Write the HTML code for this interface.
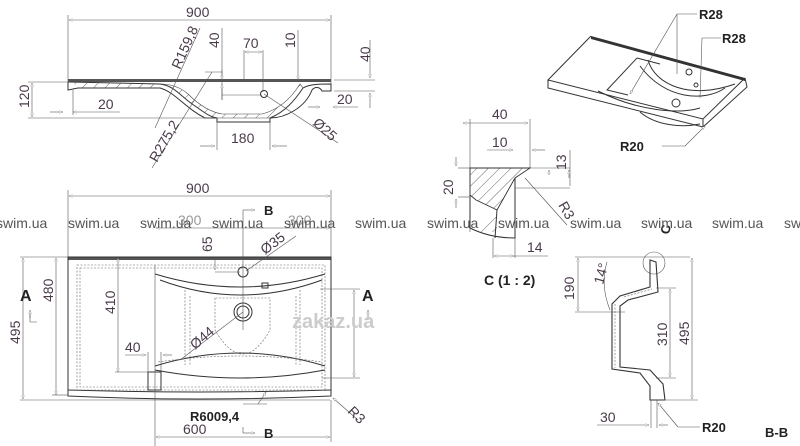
<!DOCTYPE html>
<html><head><meta charset="utf-8"><style>
html,body{margin:0;padding:0;background:#fff;width:800px;height:446px;overflow:hidden}
svg{display:block}
.l{stroke:#333;stroke-width:1;fill:none}
.t{stroke:#555;stroke-width:0.6;fill:none}
.d{stroke:#666;stroke-width:0.6;fill:none;stroke-dasharray:2 1.5}
.dim{font-family:"Liberation Sans",sans-serif;font-size:14px;fill:#4a3a4a}
.lab{font-family:"Liberation Sans",sans-serif;font-size:13px;font-weight:bold;fill:#222}
.wm{font-family:"Liberation Sans",sans-serif;font-size:14px;fill:#555}
</style></head><body>
<svg width="800" height="446" viewBox="0 0 800 446" xmlns="http://www.w3.org/2000/svg">
<defs>
<marker id="a" viewBox="0 0 8 6" refX="8" refY="3" markerWidth="6" markerHeight="5" orient="auto-start-reverse"><path d="M0,0L8,3L0,6z" fill="#fff" stroke="#555" stroke-width="0.8"/></marker>
<pattern id="h" width="8" height="8" patternUnits="userSpaceOnUse" patternTransform="rotate(45)"><line x1="0" y1="0" x2="0" y2="8" stroke="#444" stroke-width="0.8"/></pattern>
</defs>

<!-- ===== TOP SECTION VIEW ===== -->
<line class="t" x1="68" y1="15" x2="68" y2="85"/><line class="t" x1="331" y1="15" x2="331" y2="85"/>
<line class="t" x1="69" y1="20" x2="330" y2="20" marker-start="url(#a)" marker-end="url(#a)"/>
<text class="dim" x="186" y="17">900</text>
<rect x="68" y="79" width="263" height="3" fill="#555"/>
<path class="l" d="M68,82 L160,84 C175,86 180,96 195,106 C205,113 210,117 217,118 L217,122 L270,122 L270,118 C285,112 295,100 303,88 C310,84 320,84 331,84 L331,91 L322,91 C320,87 315,86 312,90 C305,108 285,118 270,118"/>
<path class="l" d="M68,82 L68,90 L78,88 L160,88 C175,92 185,108 205,118 L217,118"/>
<path d="M160,84 C175,86 180,96 195,106 C205,113 210,117 217,118 L270,118 C285,112 295,100 303,88 L300,84 C290,100 278,110 262,114 L222,114 C210,112 198,104 188,94 C180,87 170,84 160,84z" fill="url(#h)" stroke="#444" stroke-width="0.6"/>
<path d="M72,82 L160,84 L160,88 L78,88z" fill="url(#h)" stroke="none"/>
<line class="t" x1="28" y1="82" x2="90" y2="82"/><line class="t" x1="28" y1="118" x2="217" y2="118"/>
<line class="t" x1="32" y1="83" x2="32" y2="117" marker-start="url(#a)" marker-end="url(#a)"/>
<text class="dim" transform="translate(29,108) rotate(-90)">120</text>
<line class="t" x1="50" y1="112" x2="63" y2="112" marker-end="url(#a)"/><line class="t" x1="120" y1="112" x2="73" y2="112" marker-end="url(#a)"/>
<line class="t" x1="73" y1="90" x2="73" y2="115"/>
<text class="dim" x="98" y="109">20</text>
<line class="t" x1="334" y1="80" x2="375" y2="80"/><line class="t" x1="334" y1="91" x2="375" y2="91"/>
<line class="t" x1="370" y1="40" x2="370" y2="78" marker-end="url(#a)"/><line class="t" x1="370" y1="108" x2="370" y2="93" marker-end="url(#a)"/>
<text class="dim" transform="translate(370,62) rotate(-90)">40</text>
<line class="t" x1="308" y1="107" x2="320" y2="107" marker-end="url(#a)"/><line class="t" x1="358" y1="107" x2="333" y2="107" marker-end="url(#a)"/>
<text class="dim" x="337" y="104">20</text>
<line class="t" x1="217" y1="122" x2="217" y2="150"/><line class="t" x1="270" y1="122" x2="270" y2="150"/>
<line class="t" x1="200" y1="146" x2="215" y2="146" marker-end="url(#a)"/><line class="t" x1="287" y1="146" x2="272" y2="146" marker-end="url(#a)"/>
<text class="dim" x="231" y="143">180</text>
<circle class="l" cx="264" cy="94" r="3.5"/>
<line class="t" x1="264" y1="94" x2="338" y2="143"/>
<text class="dim" transform="translate(312,124) rotate(42)">Ø25</text>
<line class="t" x1="200" y1="28" x2="155" y2="128"/>
<text class="dim" transform="translate(180,70) rotate(-66)">R159,8</text>
<line class="t" x1="212" y1="72" x2="152" y2="168"/><line class="t" x1="205" y1="72" x2="222" y2="72"/>
<text class="dim" transform="translate(157,163) rotate(-60)">R275,2</text>
<line class="t" x1="222" y1="28" x2="222" y2="100"/>
<line class="t" x1="222" y1="70" x2="222" y2="80" marker-end="url(#a)"/><line class="t" x1="222" y1="100" x2="222" y2="84" marker-end="url(#a)"/>
<line class="t" x1="222" y1="95" x2="262" y2="95"/>
<text class="dim" transform="translate(219,48) rotate(-90)">40</text>
<line class="t" x1="244" y1="50" x2="244" y2="80"/><line class="t" x1="263" y1="50" x2="263" y2="92"/>
<line class="t" x1="245" y1="52" x2="262" y2="52" marker-start="url(#a)" marker-end="url(#a)"/>
<text class="dim" x="243" y="48">70</text>
<line class="t" x1="298" y1="30" x2="298" y2="80" marker-end="url(#a)"/>
<text class="dim" transform="translate(295,48) rotate(-90)">10</text>

<!-- ===== PLAN VIEW ===== -->
<line class="t" x1="68" y1="190" x2="68" y2="258"/><line class="t" x1="331" y1="190" x2="331" y2="258"/>
<line class="t" x1="69" y1="196" x2="330" y2="196" marker-start="url(#a)" marker-end="url(#a)"/>
<text class="dim" x="186" y="193">900</text>
<rect x="68" y="257" width="263" height="3" fill="#555"/>
<path class="l" d="M68,257 L331,257 L331,396 Q200,402 68,396 Z"/>
<path class="l" d="M68,390 Q200,394 331,390"/>
<rect class="d" x="77" y="265" width="248" height="125"/>
<rect class="d" x="80" y="268" width="242" height="119"/>
<path class="l" d="M155,274 Q240,300 325,274"/>
<path class="l" d="M160,280 Q240,310 322,280"/>
<path class="d" d="M185,290 L185,365 M300,290 L300,365"/>
<path class="d" d="M190,296 L190,365 M296,296 L296,365"/>
<path class="d" d="M215,298 L215,330 Q243,378 270,330 L270,298 Z"/>
<path class="l" d="M155,366 Q240,340 325,366"/>
<path class="l" d="M155,370 Q240,386 325,370"/>
<path class="d" d="M158,362 Q240,350 322,362"/>
<circle class="l" cx="243" cy="312" r="9"/><circle class="l" cx="243" cy="312" r="6"/>
<circle class="l" cx="243" cy="272" r="5"/>
<rect class="l" x="148" y="372" width="13" height="18"/>
<rect class="l" x="262" y="283" width="6" height="5"/>
<line class="t" x1="20" y1="257" x2="68" y2="257"/><line class="t" x1="20" y1="400" x2="330" y2="400"/>
<line class="t" x1="23" y1="258" x2="23" y2="399" marker-start="url(#a)" marker-end="url(#a)"/>
<text class="dim" transform="translate(20,344) rotate(-90)">495</text>
<line class="t" x1="56" y1="258" x2="56" y2="395" marker-start="url(#a)" marker-end="url(#a)"/>
<line class="t" x1="52" y1="395" x2="68" y2="395"/>
<text class="dim" transform="translate(53,302) rotate(-90)">480</text>
<line class="t" x1="118" y1="258" x2="118" y2="372" marker-start="url(#a)" marker-end="url(#a)"/>
<line class="t" x1="115" y1="372" x2="150" y2="372"/>
<text class="dim" transform="translate(115,314) rotate(-90)">410</text>
<line class="t" x1="155" y1="265" x2="155" y2="446"/>
<line class="t" x1="156" y1="228" x2="243" y2="228" marker-start="url(#a)"/><line class="t" x1="243" y1="228" x2="330" y2="228" marker-end="url(#a)"/>
<text class="dim" x="178" y="225" style="fill:#999">300</text><text class="dim" x="288" y="225" style="fill:#999">300</text>
<line class="t" x1="156" y1="437" x2="330" y2="437" marker-start="url(#a)" marker-end="url(#a)"/>
<line class="t" x1="331" y1="400" x2="331" y2="442"/>
<text class="dim" x="183" y="434">600</text>
<line class="t" x1="215" y1="258" x2="215" y2="270" marker-end="url(#a)"/><line class="t" x1="215" y1="272" x2="240" y2="272"/>
<text class="dim" transform="translate(212,252) rotate(-90)">65</text>
<line class="t" x1="243" y1="210" x2="243" y2="330"/>
<line class="t" x1="243" y1="210" x2="255" y2="210" marker-end="url(#a)"/>
<text class="lab" x="264" y="215">B</text>
<line class="t" x1="243" y1="427" x2="243" y2="433"/><line class="t" x1="243" y1="433" x2="255" y2="433" marker-end="url(#a)"/>
<text class="lab" x="264" y="438">B</text>
<line class="t" x1="246" y1="271" x2="296" y2="236"/>
<text class="dim" transform="translate(265,255) rotate(-37)">Ø35</text>
<line class="t" x1="180" y1="360" x2="243" y2="312"/>
<text class="dim" transform="translate(195,350) rotate(-40)">Ø44</text>
<line class="t" x1="125" y1="355" x2="146" y2="355" marker-end="url(#a)"/><line class="t" x1="172" y1="355" x2="163" y2="355" marker-end="url(#a)"/>
<line class="t" x1="148" y1="352" x2="148" y2="372"/><line class="t" x1="161" y1="352" x2="161" y2="372"/>
<text class="dim" x="125" y="352">40</text>
<line class="t" x1="320" y1="289" x2="360" y2="289"/><line class="t" x1="322" y1="378" x2="360" y2="378"/>
<line class="t" x1="354" y1="290" x2="354" y2="377" marker-start="url(#a)" marker-end="url(#a)"/>
<text class="lab" x="20" y="301" style="font-size:16px">A</text>
<path class="t" d="M30,322 L30,312 M30,322 L37,322"/><line class="t" x1="30" y1="318" x2="30" y2="310" marker-end="url(#a)"/>
<text class="lab" x="362" y="301" style="font-size:16px">A</text>
<line class="t" x1="368" y1="320" x2="368" y2="310" marker-end="url(#a)"/>
<text x="292" y="328" style="font-family:'Liberation Sans',sans-serif;font-size:20px;font-weight:bold;fill:#ccc">zakaz.ua</text>
<line class="t" x1="243" y1="404" x2="267" y2="404"/><line class="t" x1="258" y1="404" x2="266" y2="392" marker-end="url(#a)"/>
<text class="lab" x="190" y="421">R6009,4</text>
<line class="t" x1="358" y1="420" x2="333" y2="398" marker-end="url(#a)"/>
<text class="dim" transform="translate(347,412) rotate(45)">R3</text>

<!-- ===== ISO VIEW ===== -->
<path d="M591,36 L745,78 L745,81 L591,39z" fill="#333"/>
<path class="l" d="M591,36 L548,80 L703,119 L745,78"/>
<path class="l" d="M548,80 L548,88 L703,127 L703,119 M703,127 L747,87 L745,78"/>
<path class="l" d="M637,58 L607,90 L628,95 M637,58 L660,64"/>
<path class="l" d="M648,60 C655,85 690,100 735,84"/>
<path class="l" d="M640,66 C665,100 705,102 725,88"/>
<path class="l" d="M598,91 C640,112 680,114 700,108"/>
<path class="l" d="M640,112 C655,125 680,128 700,124"/>
<circle class="l" cx="689" cy="72" r="3"/><circle class="l" cx="696" cy="85" r="2"/><circle class="l" cx="676" cy="103" r="4"/>
<line class="t" x1="677" y1="14" x2="697" y2="14"/>
<line class="t" x1="677" y1="14" x2="677" y2="74"/><line class="t" x1="677" y1="14" x2="630" y2="94" marker-end="url(#a)"/>
<text class="lab" x="699" y="19">R28</text>
<line class="t" x1="702" y1="38" x2="721" y2="38"/><line class="t" x1="702" y1="38" x2="700" y2="98"/>
<text class="lab" x="722" y="43">R28</text>
<line class="t" x1="662" y1="146" x2="685" y2="146"/><line class="t" x1="685" y1="146" x2="705" y2="126" marker-end="url(#a)"/>
<text class="lab" x="620" y="151">R20</text>

<!-- ===== DETAIL C ===== -->
<line class="t" x1="470" y1="119" x2="470" y2="232"/><line class="t" x1="530" y1="119" x2="530" y2="168"/>
<line class="t" x1="463" y1="123" x2="528" y2="123" marker-start="url(#a)" marker-end="url(#a)"/>
<text class="dim" x="492" y="119">40</text>
<line class="t" x1="487" y1="150" x2="513" y2="150" marker-end="url(#a)"/><line class="t" x1="545" y1="150" x2="532" y2="150" marker-end="url(#a)"/>
<text class="dim" x="492" y="147">10</text>
<path d="M470,168 L530,168 L515,178 L497,210 L493,208 L476,200 L470,195 Z" fill="url(#h)" stroke="#333" stroke-width="0.9"/>
<path class="l" d="M470,195 L470,228 Q490,238 515,238 L515,178 M497,210 L495,238"/>
<path d="M476,232 L493,210 L497,210 L497,232z" fill="url(#h)"/>
<line class="t" x1="530" y1="168" x2="570" y2="168"/><line class="t" x1="515" y1="188" x2="570" y2="188"/>
<line class="t" x1="549" y1="175" x2="549" y2="170" marker-end="url(#a)"/>
<line class="t" x1="570" y1="150" x2="570" y2="186"/>
<line class="t" x1="569" y1="178" x2="569" y2="170" marker-end="url(#a)"/>
<text class="dim" transform="translate(566,170) rotate(-90)">13</text>
<line class="t" x1="458" y1="168" x2="470" y2="168"/><line class="t" x1="458" y1="197" x2="470" y2="197"/>
<line class="t" x1="456" y1="157" x2="456" y2="166" marker-end="url(#a)"/><line class="t" x1="456" y1="208" x2="456" y2="199" marker-end="url(#a)"/>
<text class="dim" transform="translate(453,195) rotate(-90)">20</text>
<line class="t" x1="525" y1="178" x2="567" y2="225"/>
<text class="dim" transform="translate(558,205) rotate(60)">R3</text>
<line class="t" x1="493" y1="238" x2="493" y2="258"/><line class="t" x1="515" y1="238" x2="515" y2="258"/>
<line class="t" x1="494" y1="256" x2="514" y2="256" marker-start="url(#a)" marker-end="url(#a)"/>
<line class="t" x1="514" y1="256" x2="548" y2="256"/>
<text class="dim" x="527" y="252">14</text>
<text class="lab" x="484" y="285" style="font-size:14px">C (1 : 2)</text>

<!-- ===== SECTION B-B ===== -->
<circle class="t" cx="654" cy="263" r="11"/>
<text class="lab" x="661" y="235" transform="rotate(-80 665 230)">C</text>
<path class="l" style="stroke-width:1.1" d="M650,260 L650,287 L620,296 L612,304 L612,369 L640,373 L650,386 L650,400 L665,400 L663,384 L650,370 L620,367 L620,306 L628,300 L658,292 L656,262 Z"/>
<path class="d" d="M615,304 L615,368 M624,297 L652,289"/>
<line class="t" x1="575" y1="257" x2="690" y2="257"/>
<line class="t" x1="575" y1="312" x2="625" y2="312"/>
<line class="t" x1="578" y1="258" x2="578" y2="311" marker-start="url(#a)" marker-end="url(#a)"/>
<text class="dim" transform="translate(574,300) rotate(-90)">190</text>
<path class="t" d="M607,262 Q600,285 610,310"/>
<text class="dim" transform="translate(603,285) rotate(-75)">14°</text>
<line class="t" x1="656" y1="288" x2="676" y2="288"/><line class="t" x1="656" y1="378" x2="676" y2="378"/>
<line class="t" x1="670" y1="289" x2="670" y2="377" marker-start="url(#a)" marker-end="url(#a)"/>
<text class="dim" transform="translate(667,346) rotate(-90)">310</text>
<line class="t" x1="666" y1="400" x2="698" y2="400"/>
<line class="t" x1="692" y1="258" x2="692" y2="399" marker-start="url(#a)" marker-end="url(#a)"/>
<text class="dim" transform="translate(689,345) rotate(-90)">495</text>
<line class="t" x1="651" y1="400" x2="651" y2="428"/><line class="t" x1="657" y1="400" x2="657" y2="428"/>
<line class="t" x1="597" y1="425" x2="649" y2="425" marker-end="url(#a)"/><line class="t" x1="668" y1="425" x2="659" y2="425" marker-end="url(#a)"/>
<text class="dim" x="600" y="422">30</text>
<line class="t" x1="700" y1="427" x2="678" y2="427"/><line class="t" x1="678" y1="427" x2="658" y2="403" marker-end="url(#a)"/>
<text class="lab" x="702" y="432">R20</text>
<text class="lab" x="765" y="437">B-B</text>

<g class="wm">
<text x="-4" y="228">swim.ua</text><text x="68" y="228">swim.ua</text><text x="140" y="228">swim.ua</text>
<text x="212" y="228">swim.ua</text><text x="284" y="228">swim.ua</text><text x="355" y="228">swim.ua</text>
<text x="427" y="228">swim.ua</text><text x="498" y="228">swim.ua</text><text x="570" y="228">swim.ua</text>
<text x="641" y="228">swim.ua</text><text x="712" y="228">swim.ua</text><text x="784" y="228">swim.ua</text>
</g>
</svg>
</body></html>
